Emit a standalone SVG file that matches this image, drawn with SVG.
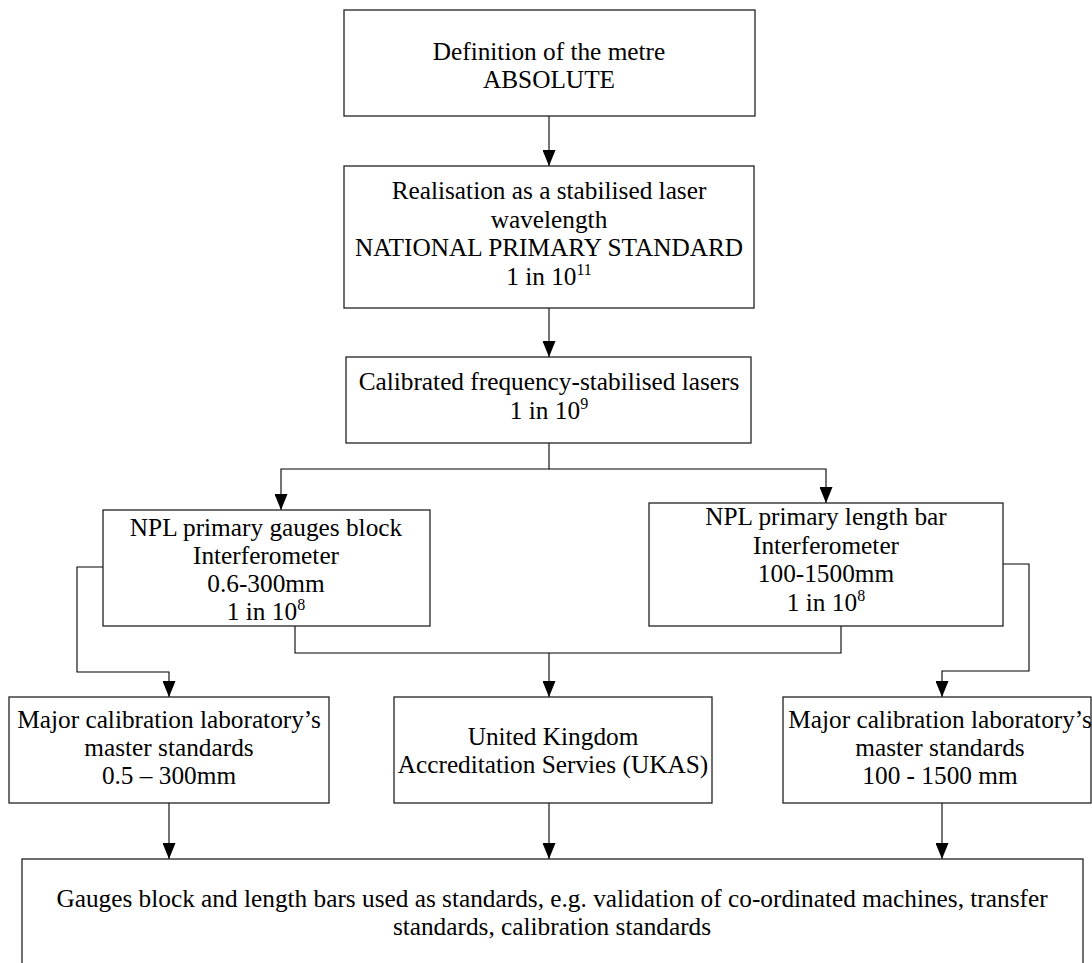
<svg xmlns="http://www.w3.org/2000/svg" width="1092" height="963" viewBox="0 0 1092 963">
  <style>
    .box { fill: #ffffff; stroke: #222222; stroke-width: 1.3; }
    .lbl { font-family: "Liberation Serif", "Times New Roman", serif; font-size: 25.3px; fill: #000000; text-anchor: middle; }
    .sup { font-size: 16px; }
    .wire { fill: none; stroke: #000000; stroke-width: 1.1; }
  </style>
  <defs>
    <marker id="arrow" viewBox="0 -6.5 16 13" refX="16" refY="0" markerWidth="16" markerHeight="13" markerUnits="userSpaceOnUse" orient="auto">
      <path d="M0,-6.5 L16,0 L0,6.5 z" fill="#000000"/>
    </marker>
  </defs>
  <rect width="1092" height="963" fill="#ffffff"/>

  <g id="connectors">
    <path class="wire" d="M549,116 V166" marker-end="url(#arrow)"/>
    <path class="wire" d="M549,308 V357" marker-end="url(#arrow)"/>
    <path class="wire" d="M549,443 V469 H281 V510" marker-end="url(#arrow)"/>
    <path class="wire" d="M549,469 H826 V503" marker-end="url(#arrow)"/>
    <path class="wire" d="M103,567 H77 V672 H169 V697" marker-end="url(#arrow)"/>
    <path class="wire" d="M295,626 V653 H841 V626"/>
    <path class="wire" d="M549,653 V697" marker-end="url(#arrow)"/>
    <path class="wire" d="M1003,564 H1029 V671 H942 V697" marker-end="url(#arrow)"/>
    <path class="wire" d="M169,803 V859" marker-end="url(#arrow)"/>
    <path class="wire" d="M549,803 V859" marker-end="url(#arrow)"/>
    <path class="wire" d="M942,803 V859" marker-end="url(#arrow)"/>
  </g>

  <g id="definition">
    <rect class="box" x="344" y="10" width="411" height="106"/>
    <text class="lbl" x="549" y="60">Definition of the metre</text>
    <text class="lbl" x="549" y="88">ABSOLUTE</text>
  </g>

  <g id="realisation">
    <rect class="box" x="344" y="166" width="410" height="142"/>
    <text class="lbl" x="549" y="199">Realisation as a stabilised laser</text>
    <text class="lbl" x="549" y="228">wavelength</text>
    <text class="lbl" x="549" y="256">NATIONAL PRIMARY STANDARD</text>
    <text class="lbl" x="549" y="285">1 in 10<tspan class="sup" dy="-10">11</tspan></text>
  </g>

  <g id="calibrated-lasers">
    <rect class="box" x="346" y="357" width="405" height="86"/>
    <text class="lbl" x="549" y="390">Calibrated frequency-stabilised lasers</text>
    <text class="lbl" x="549" y="419">1 in 10<tspan class="sup" dy="-10">9</tspan></text>
  </g>

  <g id="gauge-block-interferometer">
    <rect class="box" x="103" y="510" width="327" height="116"/>
    <text class="lbl" x="266" y="536">NPL primary gauges block</text>
    <text class="lbl" x="266" y="564">Interferometer</text>
    <text class="lbl" x="266" y="592">0.6-300mm</text>
    <text class="lbl" x="266" y="620">1 in 10<tspan class="sup" dy="-10">8</tspan></text>
  </g>

  <g id="length-bar-interferometer">
    <rect class="box" x="649" y="503" width="354" height="123"/>
    <text class="lbl" x="826" y="525">NPL primary length bar</text>
    <text class="lbl" x="826" y="554">Interferometer</text>
    <text class="lbl" x="826" y="582">100-1500mm</text>
    <text class="lbl" x="826" y="611">1 in 10<tspan class="sup" dy="-10">8</tspan></text>
  </g>

  <g id="lab-standards-short">
    <rect class="box" x="9" y="697" width="320" height="106"/>
    <text class="lbl" x="169" y="728">Major calibration laboratory’s</text>
    <text class="lbl" x="169" y="756">master standards</text>
    <text class="lbl" x="169" y="784">0.5 – 300mm</text>
  </g>

  <g id="ukas">
    <rect class="box" x="394" y="697" width="318" height="106"/>
    <text class="lbl" x="553" y="745">United Kingdom</text>
    <text class="lbl" x="553" y="773">Accreditation Servies (UKAS)</text>
  </g>

  <g id="lab-standards-long">
    <rect class="box" x="783" y="697" width="308" height="106"/>
    <text class="lbl" x="940" y="728">Major calibration laboratory’s</text>
    <text class="lbl" x="940" y="756">master standards</text>
    <text class="lbl" x="940" y="784">100 - 1500 mm</text>
  </g>

  <g id="working-standards">
    <rect class="box" x="22" y="859" width="1061" height="130"/>
    <text class="lbl" x="552" y="907">Gauges block and length bars used as standards, e.g. validation of co-ordinated machines, transfer</text>
    <text class="lbl" x="552" y="935">standards, calibration standards</text>
  </g>
</svg>
